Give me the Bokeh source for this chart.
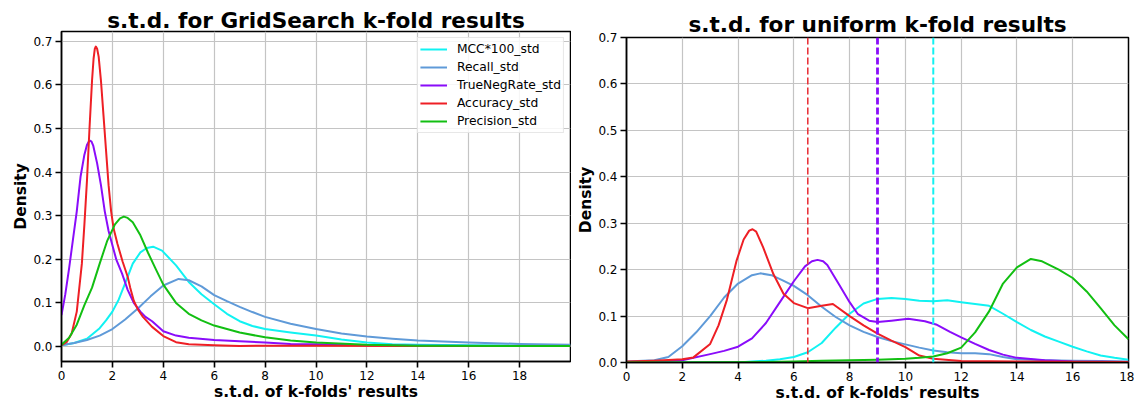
from bokeh.plotting import figure
from bokeh.layouts import row, column
from bokeh.models import Range1d, FixedTicker, PrintfTickFormatter, Span
from bokeh.embed import file_html
from bokeh.resources import INLINE

FONT = "DejaVu Sans"

# series names and colours
names = ["MCC*100_std", "Recall_std", "TrueNegRate_std", "Accuracy_std", "Precision_std"]
colors = ["#11f2f2", "#5f9ad8", "#8a0cfa", "#ee1f25", "#12bf12"]

# ---- density curves: GridSearch k-fold s.t.d. ----
gs_mcc_x = [0, 0.5, 1.0, 1.5, 1.75, 2.0, 2.25, 2.5, 2.8, 3.1, 3.35, 3.6, 3.95, 4.5, 5.0, 5.5, 6.0,
            6.5, 7.0, 7.5, 8.0, 9.0, 10, 11, 12, 13, 14, 16, 18, 20]
gs_mcc = [0.003, 0.008, 0.018, 0.042, 0.06, 0.08, 0.108, 0.145, 0.19, 0.216, 0.226, 0.229, 0.22,
          0.186, 0.148, 0.12, 0.097, 0.075, 0.058, 0.047, 0.04, 0.032, 0.025, 0.016, 0.009, 0.005,
          0.004, 0.003, 0.002, 0.002]

gs_rec_x = [0, 0.5, 1.0, 1.5, 2.0, 2.5, 3.0, 3.5, 4.0, 4.6, 5.0, 5.5, 6.0, 6.5, 7.0, 7.5, 8.0,
            9.0, 10, 11, 12, 13, 14, 16, 18, 20]
gs_rec = [0.003, 0.008, 0.015, 0.025, 0.04, 0.062, 0.087, 0.115, 0.14, 0.155, 0.152, 0.138, 0.118,
          0.104, 0.091, 0.079, 0.068, 0.052, 0.04, 0.03, 0.023, 0.018, 0.014, 0.009, 0.006, 0.004]

gs_tnr_x = [0, 0.15, 0.3, 0.45, 0.6, 0.75, 0.9, 1.0, 1.07, 1.12, 1.18, 1.25, 1.4, 1.55, 1.7, 1.85,
            1.95, 2.15, 2.38, 2.6, 2.84, 3.1, 3.3, 3.56, 4.0, 4.5, 5.0, 6.0, 7.0, 8.0, 9.0, 10, 12,
            14, 20]
gs_tnr = [0.072, 0.12, 0.18, 0.245, 0.31, 0.39, 0.44, 0.462, 0.47, 0.472, 0.47, 0.46, 0.42, 0.37,
          0.31, 0.265, 0.243, 0.2, 0.167, 0.13, 0.1, 0.08, 0.068, 0.058, 0.035, 0.025, 0.02, 0.015,
          0.012, 0.009, 0.006, 0.005, 0.003, 0.002, 0.001]

gs_acc_x = [0, 0.2, 0.4, 0.6, 0.8, 0.9, 1.0, 1.1, 1.2, 1.26, 1.31, 1.35, 1.4, 1.46, 1.55, 1.65,
            1.75, 1.85, 1.95, 2.05, 2.2, 2.4, 2.6, 2.7, 2.84, 3.0, 3.2, 3.56, 4.0, 4.5, 5.0, 6.0,
            7.0, 8.0, 10, 14, 20]
gs_acc = [0.003, 0.01, 0.03, 0.08, 0.19, 0.28, 0.38, 0.5, 0.61, 0.66, 0.683, 0.688, 0.683, 0.665,
          0.61, 0.53, 0.45, 0.37, 0.31, 0.27, 0.235, 0.195, 0.16, 0.135, 0.105, 0.085, 0.068,
          0.045, 0.024, 0.01, 0.005, 0.003, 0.001, 0.002, 0.002, 0.001, 0.001]

gs_prec_x = [0, 0.3, 0.6, 0.9, 1.2, 1.5, 1.8, 2.1, 2.3, 2.45, 2.6, 2.8, 3.1, 3.4, 3.7, 4.0, 4.5,
             5.0, 5.5, 6.0, 7.0, 8.0, 9.0, 10, 12, 14, 20]
gs_prec = [0.004, 0.02, 0.05, 0.095, 0.135, 0.19, 0.243, 0.28, 0.294, 0.298, 0.295, 0.285, 0.255,
           0.215, 0.178, 0.142, 0.1, 0.075, 0.06, 0.048, 0.032, 0.021, 0.014, 0.009, 0.004, 0.002,
           0.001]

# ---- density curves: uniform k-fold s.t.d. ----
un_mcc_x = [0, 4.0, 4.5, 5.0, 5.5, 6.0, 6.5, 7.0, 7.5, 8.0, 8.5, 9.0, 9.5, 10.0, 10.5, 11.0, 11.5,
            12.0, 12.5, 13.0, 13.5, 14.0, 14.5, 15.0, 15.5, 16.0, 16.5, 17.0, 17.5, 18.0]
un_mcc = [0.0, 0.0, 0.002, 0.004, 0.007, 0.012, 0.022, 0.042, 0.075, 0.105, 0.127, 0.137, 0.139,
          0.137, 0.133, 0.132, 0.134, 0.13, 0.126, 0.122, 0.105, 0.087, 0.07, 0.056, 0.045, 0.034,
          0.024, 0.015, 0.01, 0.006]

un_rec_x = [0, 1.0, 1.5, 2.0, 2.5, 3.0, 3.5, 4.0, 4.5, 4.8, 5.2, 5.6, 6.0, 6.5, 7.0, 7.5, 8.0,
            8.5, 9.0, 9.5, 10, 10.5, 11, 11.5, 12, 12.5, 13, 13.5, 14, 15, 16, 17, 18]
un_rec = [0.002, 0.005, 0.012, 0.035, 0.065, 0.1, 0.14, 0.17, 0.188, 0.192, 0.188, 0.177, 0.165,
          0.145, 0.12, 0.098, 0.08, 0.066, 0.055, 0.046, 0.039, 0.032, 0.026, 0.022, 0.02, 0.02,
          0.018, 0.012, 0.007, 0.005, 0.004, 0.003, 0.002]

un_tnr_x = [0, 1, 2, 3, 3.5, 4.0, 4.5, 5.0, 5.5, 6.0, 6.4, 6.65, 6.85, 7.05, 7.2, 7.6, 8.0, 8.3,
            8.7, 9.0, 9.5, 10.1, 10.7, 11.1, 11.6, 12.0, 12.5, 13, 13.5, 14, 15, 16, 18]
un_tnr = [0.001, 0.002, 0.005, 0.018, 0.025, 0.034, 0.052, 0.085, 0.13, 0.175, 0.207, 0.218,
          0.221, 0.218, 0.21, 0.17, 0.13, 0.104, 0.09, 0.087, 0.09, 0.094, 0.089, 0.082, 0.066,
          0.054, 0.04, 0.027, 0.017, 0.01, 0.005, 0.002, 0.001]

un_acc_x = [0, 1.0, 2.0, 2.4, 3.0, 3.3, 3.6, 3.95, 4.2, 4.4, 4.52, 4.65, 4.9, 5.27, 5.63, 6.0,
            6.5, 7.0, 7.4, 8.0, 8.5, 9.0, 9.5, 10.0, 10.5, 11.0, 12.0, 18.0]
un_acc = [0.002, 0.004, 0.007, 0.011, 0.04, 0.08, 0.135, 0.22, 0.265, 0.284, 0.287, 0.282, 0.248,
          0.19, 0.148, 0.128, 0.117, 0.122, 0.126, 0.1, 0.08, 0.062, 0.047, 0.033, 0.015, 0.008,
          0.003, 0.001]

un_prec_x = [0, 5, 6, 7, 8, 9, 10, 10.5, 11, 11.5, 12, 12.5, 13, 13.5, 14, 14.5, 14.9, 15.5, 16,
             16.5, 17, 17.5, 18]
un_prec = [0.0, 0.001, 0.002, 0.004, 0.005, 0.006, 0.008, 0.01, 0.013, 0.02, 0.032, 0.065, 0.11,
           0.17, 0.205, 0.223, 0.218, 0.2, 0.182, 0.153, 0.117, 0.08, 0.05]

# reference markers on the uniform panel (Accuracy, TrueNegRate, MCC)
un_marks = [6.5, 9.0, 11.0]
un_mark_colors = ["#e8333a", "#8a0cfa", "#11f2f2"]
un_mark_widths = [1.6, 2.8, 2.0]

x_ticks = [0, 2, 4, 6, 8, 10, 12, 14, 16, 18]
y_ticks = [0.0, 0.1, 0.2, 0.3, 0.4, 0.5, 0.6, 0.7]


def make_panel(title, width, x_end, y_start, y_end, borders, title_standoff, ylabel_standoff):
    left, right, top, bottom = borders
    p = figure(width=width, height=404, output_backend="svg", toolbar_location=None,
               x_range=Range1d(0, x_end), y_range=Range1d(y_start, y_end),
               min_border_left=left, min_border_right=right,
               min_border_top=top, min_border_bottom=bottom,
               background_fill_color="white", border_fill_color="white")
    p.title.text = title
    p.title.text_font = FONT
    p.title.text_font_size = "21.6px"
    p.title.text_font_style = "bold"
    p.title.text_color = "black"
    p.title.align = "center"
    p.title.standoff = title_standoff
    p.outline_line_color = "black"
    p.outline_line_width = 1.5
    p.outline_line_alpha = 1.0

    p.xaxis.ticker = FixedTicker(ticks=x_ticks)
    p.yaxis.ticker = FixedTicker(ticks=y_ticks)
    p.yaxis.formatter = PrintfTickFormatter(format="%.1f")
    p.xaxis.axis_label = "s.t.d. of k-folds' results"
    p.yaxis.axis_label = "Density"
    for ax in (p.xaxis, p.yaxis):
        ax.axis_line_color = "black"
        ax.axis_line_width = 1.5
        ax.major_tick_line_color = "black"
        ax.major_tick_line_width = 1.6
        ax.major_tick_out = 6
        ax.major_tick_in = 0
        ax.minor_tick_line_color = None
        ax.major_label_text_font = FONT
        ax.major_label_text_font_size = "12px"
        ax.major_label_text_color = "black"
        ax.axis_label_text_font = FONT
        ax.axis_label_text_font_size = "15.5px"
        ax.axis_label_text_font_style = "bold"
        ax.axis_label_text_color = "black"
    p.xaxis.major_label_standoff = 3
    p.xaxis.axis_label_standoff = 0
    p.yaxis.major_label_standoff = 3
    p.yaxis.axis_label_standoff = ylabel_standoff

    p.grid.grid_line_color = "#c4c4c4"
    p.grid.grid_line_width = 1.2
    return p


left = make_panel("s.t.d. for GridSearch k-fold results", 571, 20, -0.0344, 0.7225,
                  (61, 1, 31, 43), -3, 0)
gs_series = [(gs_mcc_x, gs_mcc), (gs_rec_x, gs_rec), (gs_tnr_x, gs_tnr),
             (gs_acc_x, gs_acc), (gs_prec_x, gs_prec)]
for (xs, ys), name, color in zip(gs_series, names, colors):
    left.line(xs, ys, line_color=color, line_width=2, line_join="round", legend_label=name)

lg = left.legend[0]
lg.location = "top_right"
lg.margin = 6
lg.padding = 2
lg.spacing = 0
lg.label_height = 18
lg.glyph_height = 18
lg.glyph_width = 27
lg.label_standoff = 10
lg.label_text_font = FONT
lg.label_text_font_size = "12.3px"
lg.label_text_color = "black"
lg.border_line_color = "#cfcfcf"
lg.border_line_width = 1
lg.background_fill_alpha = 0.85

right = make_panel("s.t.d. for uniform k-fold results", 563, 18, 0.0, 0.7,
                   (55, 6, 37, 42), 2, 0)
un_series = [(un_mcc_x, un_mcc), (un_rec_x, un_rec), (un_tnr_x, un_tnr),
             (un_acc_x, un_acc), (un_prec_x, un_prec)]
for (xs, ys), color in zip(un_series, colors):
    right.line(xs, ys, line_color=color, line_width=2, line_join="round")

for loc, c, w in zip(un_marks, un_mark_colors, un_mark_widths):
    right.add_layout(Span(location=loc, dimension="height", line_color=c,
                          line_width=w, line_dash="7 3"))

# each panel in its own column so the two frames are laid out independently
layout = row(column(left), column(right))
open("out.html", "w").write(file_html(layout, INLINE))
